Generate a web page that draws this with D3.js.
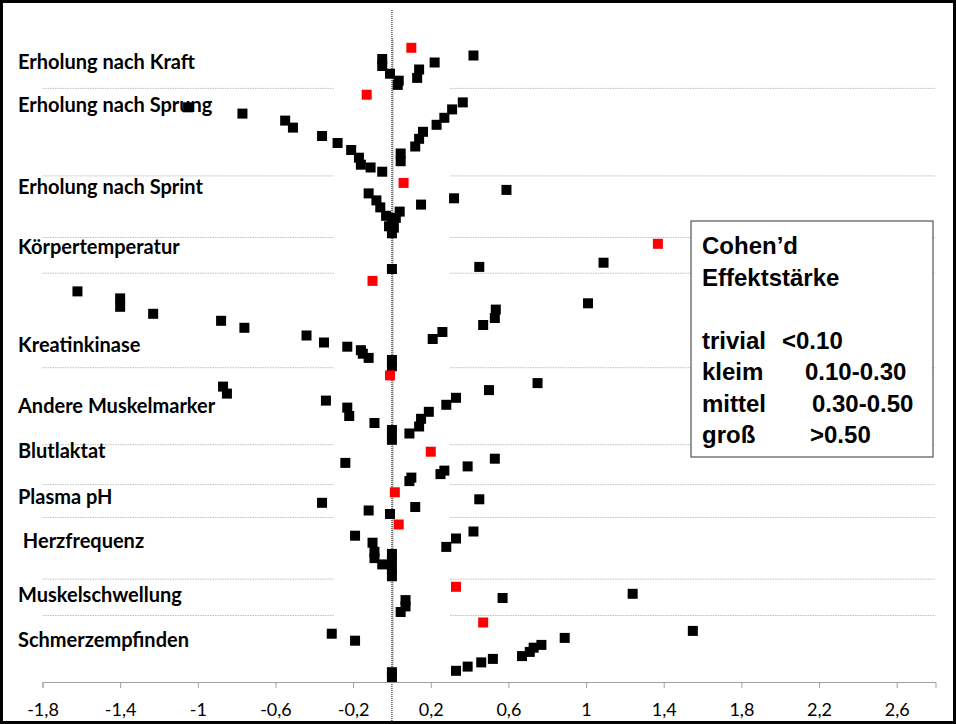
<!DOCTYPE html>
<html lang="de">
<head>
  <meta charset="UTF-8">
  <title>Cohen'd Effektstärke</title>
  <style>
    body { margin: 0; background: #fff; }
    svg { display: block; }
    .label { font-family: Lato, "Open Sans", sans-serif; font-weight: bold; font-size: 20px; fill: #000; white-space: pre; }
    .axis text { font-family: Lato, "Open Sans", sans-serif; font-size: 18px; fill: #000; }
    .axis path, .axis line { stroke: #a0a0a0; }
    .legend text { font-family: "Liberation Sans", Arial, sans-serif; font-weight: bold; font-size: 24px; fill: #000; }
  </style>
  <script src="https://d3js.org/d3.v7.min.js"></script>
</head>
<body>
  <div id="chart"></div>
  <script>
    // Kategorien und Position der Beschriftung (y-Einheiten, 0 = oben)
    var groups = ["Erholung nach Kraft", "Erholung nach Sprung", "Erholung nach Sprint", "Körpertemperatur",
      "Kreatinkinase", "Andere Muskelmarker", "Blutlaktat", "Plasma pH", " Herzfrequenz",
      "Muskelschwellung", "Schmerzempfinden"];
    var labelPos = [8.4, 14.5, 26.3, 34.8, 48.8, 57.5, 64.0, 70.6, 76.8, 84.6, 91.0];

    // Trennlinien zwischen den Gruppen
    var gridPos = [11.2, 23.7, 32.5, 37.6, 51.1, 62.1, 67.8, 72.5, 81.3, 86.5];

    // Gesamteffekt je Gruppe (rot): [d, y]
    var summary = [[0.10, 5.4], [-0.13, 12.1], [0.06, 24.7], [1.37, 33.4], [-0.10, 38.7], [-0.01, 52.2],
      [0.20, 63.1], [0.015, 68.9], [0.035, 73.5], [0.33, 82.4], [0.47, 87.5]];

    // Einzelstudien (schwarz): [d, y]
    var kraft = [[0.42, 6.5], [-0.05, 7.0], [0.22, 7.5], [-0.05, 8.0], [0.14, 8.5], [-0.01, 9.1],
      [0.13, 9.7], [0.035, 10.1], [0.03, 10.7]];
    var sprung = [[0.365, 13.2], [-1.05, 13.9], [0.31, 14.2], [-0.77, 14.8], [0.27, 15.4], [-0.55, 15.8],
      [0.23, 16.4], [-0.51, 16.8], [0.16, 17.4], [-0.36, 18.0], [0.14, 18.4], [-0.28, 19.0], [0.12, 19.5],
      [-0.21, 20.0], [0.045, 20.5], [-0.17, 21.1], [0.045, 21.6], [-0.16, 22.1], [-0.11, 22.5], [-0.05, 23.1]];
    var sprint = [[0.59, 25.7], [-0.12, 26.2], [0.32, 26.9], [-0.08, 27.2], [0.15, 27.8], [-0.06, 28.2],
      [0.04, 28.8], [-0.03, 29.4], [0.02, 29.7], [0.0, 30.1], [-0.015, 30.9], [0.01, 31.1], [0.0, 31.9]];
    var temperatur = [[1.09, 36.1], [0.45, 36.7], [0.0, 37.0]];
    var kreatin = [[-1.62, 40.2], [-1.40, 41.2], [1.01, 41.9], [-1.40, 42.4], [0.535, 42.8], [-1.23, 43.4],
      [0.53, 44.0], [-0.88, 44.4], [0.47, 45.0], [-0.76, 45.4], [0.26, 46.0], [-0.44, 46.5], [0.21, 47.0],
      [-0.35, 47.5], [-0.23, 48.1], [-0.16, 48.6], [-0.15, 49.1], [-0.12, 49.7], [0.0, 50.0], [0.0, 50.9]];
    var muskelmarker = [[0.75, 53.3], [-0.87, 53.8], [0.50, 54.3], [-0.85, 54.8], [0.33, 55.4], [-0.34, 55.8],
      [0.28, 56.4], [-0.23, 56.8], [0.19, 57.4], [-0.22, 58.0], [0.15, 58.4], [-0.09, 59.0], [0.14, 59.5],
      [0.0, 60.0], [0.09, 60.5], [0.0, 61.4]];
    var laktat = [[0.53, 64.1], [-0.24, 64.7], [0.39, 65.2], [0.27, 65.8], [0.25, 66.3], [0.10, 66.8], [0.09, 67.3]];
    var ph = [[0.45, 69.9], [-0.36, 70.4], [0.12, 71.0], [-0.12, 71.5], [-0.01, 72.0]];
    var herz = [[0.42, 74.5], [-0.19, 75.1], [0.33, 75.5], [-0.10, 76.1], [0.28, 76.7], [-0.09, 77.4],
      [0.0, 77.7], [-0.09, 78.3], [0.0, 78.7], [-0.05, 79.2], [0.0, 79.9], [0.0, 80.9]];
    var schwellung = [[1.24, 83.4], [0.57, 84.0], [0.07, 84.3], [0.07, 85.2], [0.045, 86.0]];
    var schmerz = [[1.55, 88.7], [-0.31, 89.1], [0.89, 89.7], [-0.19, 90.1], [0.77, 90.7], [0.73, 91.1],
      [0.71, 91.7], [0.67, 92.3], [0.52, 92.7], [0.46, 93.2], [0.39, 93.8], [0.33, 94.4], [0.0, 94.6], [0.0, 95.3]];

    var studies = [].concat(kraft, sprung, sprint, temperatur, kreatin, muskelmarker, laktat, ph, herz, schwellung, schmerz);

    // x-Achse
    var xTicks = [-1.8, -1.4, -1, -0.6, -0.2, 0.2, 0.6, 1, 1.4, 1.8, 2.2, 2.6];

    // Legende
    var legendLines = [["Cohen\u2019d", ""], ["Effektstärke", ""], ["trivial", "<0.10"], ["kleim", "0.10-0.30"],
      ["mittel", "0.30-0.50"], ["groß", ">0.50"]];
    var legendRow = [0, 1, 3, 4, 5, 6];
    var legendCol2 = [0, 0, 80, 103, 110, 108];

    var width = 956, height = 724;

    var x = d3.scaleLinear().domain([-1.8, 2.8]).range([42.5, 935.5]);
    var y = d3.scaleLinear().domain([0, 96]).range([10, 682]);

    var svg = d3.select("#chart").append("svg")
      .attr("width", width)
      .attr("height", height);

    svg.append("rect")
      .attr("width", width).attr("height", height)
      .attr("fill", "#fff");

    // Trennlinien (nur außerhalb des Bereichs um null)
    var gridSegs = [[-1.8, -0.3], [0.3, 2.8]];
    gridPos.forEach(function(g) {
      gridSegs.forEach(function(s) {
        svg.append("line")
          .attr("x1", x(s[0])).attr("x2", x(s[1]))
          .attr("y1", y(g)).attr("y2", y(g))
          .attr("stroke", "#bfbfbf")
          .attr("stroke-dasharray", "1.5,1");
      });
    });

    // y-Achse (grau) und gepunktete Null-Linie
    svg.append("line")
      .attr("x1", x(0) + 1).attr("x2", x(0) + 1)
      .attr("y1", y(4)).attr("y2", y(96))
      .attr("stroke", "#b0b0b0");

    svg.append("line")
      .attr("x1", x(0)).attr("x2", x(0))
      .attr("y1", y(0)).attr("y2", height - 2)
      .attr("stroke", "#000")
      .attr("stroke-dasharray", "1,1");

    // x-Achse
    var fmt = d3.formatLocale({ decimal: ",", thousands: ".", grouping: [3], currency: ["", "€"], minus: "-" }).format("~g");
    svg.append("g")
      .attr("class", "axis")
      .attr("transform", "translate(0," + y(96) + ")")
      .call(d3.axisBottom(x).tickValues(xTicks).tickFormat(fmt).tickSizeOuter(0).tickSize(6).tickPadding(15));

    // Punkte
    var size = 10;
    svg.append("g").selectAll("rect")
      .data(studies)
      .enter().append("rect")
      .attr("x", function(d) { return x(d[0]) - size / 2; })
      .attr("y", function(d) { return y(d[1]) - size / 2; })
      .attr("width", size).attr("height", size)
      .attr("fill", "#000");

    svg.append("g").selectAll("rect")
      .data(summary)
      .enter().append("rect")
      .attr("x", function(d) { return x(d[0]) - size / 2; })
      .attr("y", function(d) { return y(d[1]) - size / 2; })
      .attr("width", size).attr("height", size)
      .attr("fill", "#ff0000");

    // Beschriftungen der Gruppen
    svg.append("g").selectAll("text")
      .data(groups)
      .enter().append("text")
      .attr("class", "label")
      .attr("x", 18)
      .attr("y", function(d, i) { return y(labelPos[i]); })
      .text(function(d) { return d; });

    // Legende
    var lg = svg.append("g").attr("class", "legend").attr("transform", "translate(691,221)");
    lg.append("rect")
      .attr("width", 242).attr("height", 236)
      .attr("fill", "#fff")
      .attr("stroke", "#333");
    legendLines.forEach(function(l, i) {
      var t = lg.append("text").attr("y", 33 + legendRow[i] * 31.5);
      t.append("tspan").attr("x", 11).text(l[0]);
      if (l[1]) t.append("tspan").attr("x", 11 + legendCol2[i]).text(l[1]);
    });

    // Rahmen
    svg.append("rect")
      .attr("x", 1.5).attr("y", 1.5)
      .attr("width", width - 3).attr("height", height - 3)
      .attr("fill", "none")
      .attr("stroke", "#000")
      .attr("stroke-width", 3);
  </script>
</body>
</html>
